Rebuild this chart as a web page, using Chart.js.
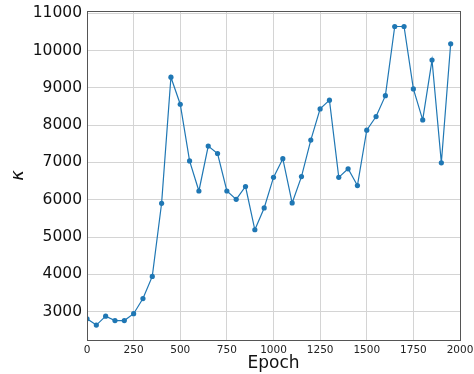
<!DOCTYPE html>
<html>
<head>
<meta charset="utf-8">
<script src="https://cdn.jsdelivr.net/npm/chart.js@4.4.0/dist/chart.umd.min.js"></script>
<style>
  body { margin: 0; background: #fff; }
  #wrap { width: 474px; height: 374px; }
</style>
</head>
<body>
<div id="wrap"><canvas id="kappa" width="474" height="374"></canvas></div>
<script>
const epochs = [0, 50, 100, 150, 200, 250, 300, 350, 400, 450,
  500, 550, 600, 650, 700, 750, 800, 850, 900, 950,
  1000, 1050, 1100, 1150, 1200, 1250, 1300, 1350, 1400, 1450,
  1500, 1550, 1600, 1650, 1700, 1750, 1800, 1850, 1900, 1950];
const kappa = [2810, 2640, 2880, 2760, 2760, 2945, 3350, 3945, 5905, 9285,
  8560, 7040, 6235, 7440, 7240, 6235, 6010, 6355, 5195, 5780,
  6600, 7100, 5915, 6620, 7600, 8435, 8670, 6600, 6830, 6380,
  7865, 8230, 8790, 10645, 10645, 8970, 8140, 9745, 6990, 10180];
const xTicks = [0, 250, 500, 750, 1000, 1250, 1500, 1750, 2000];
const yTicks = [3000, 4000, 5000, 6000, 7000, 8000, 9000, 10000, 11000];

// box around the plot area, like matplotlib spines
const frame = {
  id: 'frame',
  afterDraw(chart) {
    const a = chart.chartArea, c = chart.ctx;
    c.save();
    c.strokeStyle = '#555';
    c.lineWidth = 1;
    c.strokeRect(a.left + 0.5, a.top + 0.5, a.right - a.left, a.bottom - a.top);
    c.restore();
  }
};

new Chart(document.getElementById('kappa'), {
  type: 'line',
  data: {
    datasets: [{
      data: epochs.map((e, i) => ({x: e, y: kappa[i]})),
      borderColor: '#1f77b4',
      backgroundColor: '#1f77b4',
      borderWidth: 1.2,
      pointRadius: 2.6,
      pointBorderWidth: 0,
      tension: 0
    }]
  },
  options: {
    responsive: false,
    animation: false,
    layout: {padding: {left: 0, right: 14, top: 11, bottom: 0}},
    plugins: {legend: {display: false}, tooltip: {enabled: false}},
    scales: {
      x: {
        type: 'linear',
        min: 0, max: 2000,
        afterBuildTicks: s => { s.ticks = xTicks.map(v => ({value: v})); },
        afterFit: s => { s.height = 34; s.paddingLeft = 0; s.paddingRight = 0; },
        grid: {color: '#d4d4d4', lineWidth: 1, drawTicks: false},
        border: {display: false},
        ticks: {color: '#222', padding: 4, maxRotation: 0, autoSkip: false,
          callback: v => String(v),
          font: {family: 'DejaVu Sans', size: 10.5}},
        title: {display: true, text: 'Epoch', color: '#111', padding: {top: 1, bottom: 0},
          font: {family: 'DejaVu Sans', size: 17}}
      },
      y: {
        min: 2240, max: 11060,
        afterBuildTicks: s => { s.ticks = yTicks.map(v => ({value: v})); },
        afterFit: s => { s.width = 87; s.paddingTop = 0; s.paddingBottom = 0; },
        grid: {color: '#d4d4d4', lineWidth: 1, drawTicks: false},
        border: {display: false},
        ticks: {color: '#111', padding: 5, autoSkip: false,
          callback: v => String(v),
          font: {family: 'DejaVu Sans', size: 15.5}},
        title: {display: true, text: 'κ', color: '#111', padding: {top: 8, bottom: 0},
          font: {family: 'DejaVu Sans', size: 18, style: 'italic'}}
      }
    }
  },
  plugins: [frame]
});
</script>
</body>
</html>
